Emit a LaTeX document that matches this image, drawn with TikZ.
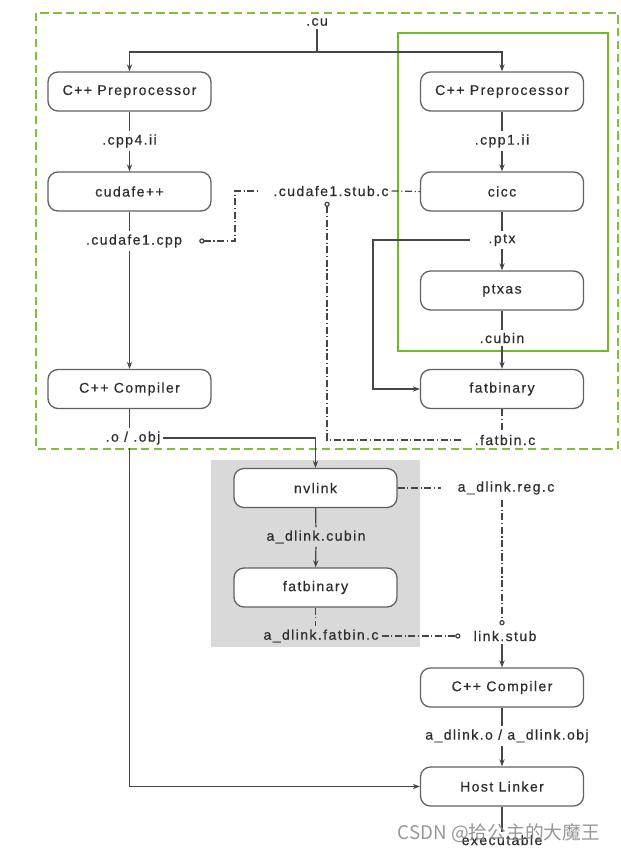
\documentclass[tikz,border=0pt]{standalone}
\usepackage{fontspec}
\setmainfont{Liberation Sans}[LetterSpace=10,FakeBold=0.5]
\newfontfamily\cjk{Noto Sans CJK SC}
\usetikzlibrary{arrows.meta,calc}
\definecolor{gdash}{RGB}{128,190,60}
\definecolor{gsolid}{RGB}{110,186,40}
\tikzset{
  box/.style={draw=black!62, line width=1.1pt, rounded corners=0.3cm,
    minimum width=4.89cm, minimum height=1.17cm, fill=white,
    font=\fontsize{12}{14}\selectfont, text=black!82},
  lbl/.style={font=\fontsize{12}{14}\selectfont, text=black!82, inner sep=2.5pt},
  ln/.style={draw=black!72, line width=1.05pt},
  arr/.style={ln, -{Stealth[length=6pt,width=4.5pt]}},
  dd/.style={ln, dash pattern=on 6pt off 2.2pt on 1pt off 2.2pt},
  circ/.tip={Circle[open,length=4.5pt,width=4.5pt]}
}
\begin{document}
\begin{tikzpicture}[x=0.03cm,y=-0.03cm]
\useasboundingbox (0,0) rectangle (620,852);
\fill[white] (0,0) rectangle (620,852);
% group backgrounds
\draw[gdash, line width=2.2pt, dash pattern=on 7pt off 4pt] (36,13) rectangle (618,449);
\fill[black!15] (211,460) rectangle (420,647);
\draw[gsolid, line width=1.8pt] (398,33) rectangle (608,351);

% nodes
\node[box] (pp1) at (129.5,91.5) {C++ Preprocessor};
\node[box] (pp2) at (502,91.5) {C++ Preprocessor};
\node[box] (cudafe) at (129.5,191.5) {cudafe++};
\node[box] (cicc) at (502,191.5) {cicc};
\node[box] (ptxas) at (502,290.5) {ptxas};
\node[box] (cxx1) at (129.5,389) {C++ Compiler};
\node[box] (fatbin) at (502,389) {fatbinary};
\node[box] (nvlink) at (315.5,488) {nvlink};
\node[box] (fatbin2) at (315.5,587.5) {fatbinary};
\node[box] (cxx2) at (502,687.5) {C++ Compiler};
\node[box] (hl) at (502,786.5) {Host Linker};

% labels
\node[lbl] (cu) at (317,22) {.cu};
\coordinate (j) at (317,52);
\node[lbl] (cpp4) at (129.5,141) {.cpp4.ii};
\node[lbl] (cpp1) at (502,141) {.cpp1.ii};
\node[lbl] (c1cpp) at (134,241) {.cudafe1.cpp};
\node[lbl] (stubc) at (331,191) {.cudafe1.stub.c};
\node[lbl] (ptx) at (502,240) {.ptx};
\node[lbl] (cubin) at (502,338) {.cubin};
\node[lbl] (obj) at (133,438) {.o / .obj};
\node[lbl] (fatbinc) at (505,440) {.fatbin.c};
\node[lbl] (regc) at (506,488) {a\_dlink.reg.c};
\node[lbl] (acubin) at (316,537) {a\_dlink.cubin};
\node[lbl] (afatbinc) at (321,636) {a\_dlink.fatbin.c};
\node[lbl] (linkstub) at (505,636) {link.stub};
\node[lbl] (dlinko) at (507,736) {a\_dlink.o / a\_dlink.obj};
\node[lbl] (exe) at (502,840) {executable};
\coordinate (bendA) at (235,191);
\coordinate (bendP) at (373,240);

% solid connectors
\draw[ln] (cu) -- (j);
\draw[arr] (j) -| (pp1.north);
\draw[arr] (j) -| (pp2.north);
\draw[ln] (pp1) -- (cpp4);
\draw[arr] (cpp4) -- (cudafe);
\draw[ln] (pp2) -- (cpp1);
\draw[arr] (cpp1) -- (cicc);
\draw[ln] (cudafe.south) -- (cudafe.south |- c1cpp.north);
\draw[arr] (cudafe.south |- c1cpp.south) -- (cxx1.north);
\draw[ln] (cicc) -- (ptx);
\draw[arr] (ptx) -- (ptxas);
\draw[arr] ([xshift=-0.45cm]ptx.west) -- (bendP) |- (fatbin.west);
\draw[ln] (ptxas) -- (cubin);
\draw[arr] (cubin) -- (fatbin);
\draw[ln] (cxx1.south) -- (cxx1.south |- obj.north);
\draw[arr] (obj.east) -| (nvlink.north);
\draw[arr] (cxx1.south |- obj.south) |- (hl.west);
\draw[ln] (nvlink) -- (acubin);
\draw[arr] (acubin) -- (fatbin2);
\draw[arr] (linkstub.south -| cxx2.north) -- (cxx2.north);
\draw[ln] (cxx2.south) -- (cxx2.south |- dlinko.north);
\draw[arr] (dlinko.south -| hl.north) -- (hl.north);
\draw[ln] (hl.south) -- (hl.south |- exe.north);

% dash-dot connectors
\draw[dd, circ-] ([xshift=12pt]c1cpp.east) -| (bendA) -- ([xshift=-0.4cm]stubc.west);
\draw[dd] (stubc.east) -- (cicc.west);
\draw[dd, circ-] ([xshift=-0.12cm,yshift=-2pt]stubc.south) |- ([xshift=-0.3cm]fatbinc.west);
\draw[dd] (fatbin.south) -- (fatbin.south |- fatbinc.north);
\draw[dd] (nvlink.east) -- ([xshift=-0.4cm]regc.west);
\draw[dd] (fatbin2.south) -- (fatbin2.south |- afatbinc.north);
\draw[dd, -circ] (afatbinc.east) -- ([xshift=-0.3cm]linkstub.west);
\draw[dd, -circ] ([yshift=-2pt]regc.south -| cxx2.north) -- ([yshift=2pt]linkstub.north -| cxx2.north);

% watermark
\node[font=\cjk\fontsize{16}{18}\selectfont, text=black!45, opacity=0.9] (wm) at (499,833) {CSDN @拾公主的大魔王};
\end{tikzpicture}
\end{document}
